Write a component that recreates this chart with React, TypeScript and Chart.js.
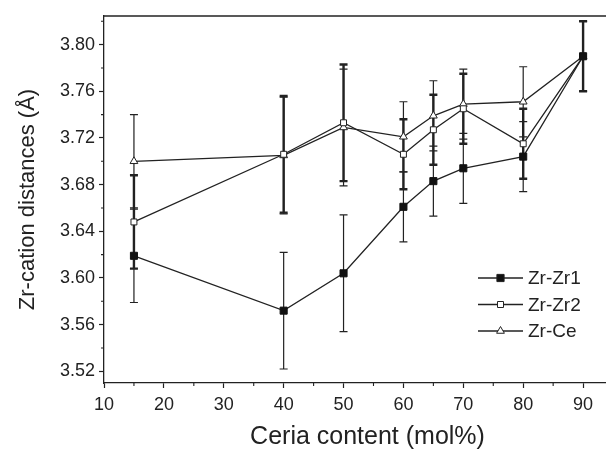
import React, { useEffect, useRef } from "react";
import { Chart, registerables } from "chart.js";

Chart.register(...registerables);

// ---- data ----
const ceria = [15, 40, 50, 60, 65, 70, 80, 90];
const zrZr1 = [3.619, 3.572, 3.604, 3.661, 3.683, 3.694, 3.704, 3.79];
const zrZr1Err = [0.04, 0.05, 0.05, 0.03, 0.03, 0.03, 0.03, 0.03];
const zrZr2 = [3.648, 3.706, 3.733, 3.706, 3.727, 3.745, 3.715, 3.79];
const zrZr2Err = [0.04, 0.05, 0.05, 0.03, 0.03, 0.03, 0.03, 0.03];
const zrCe = [3.7, 3.705, 3.729, 3.721, 3.739, 3.749, 3.751, 3.79];
const zrCeErr = [0.04, 0.05, 0.05, 0.03, 0.03, 0.03, 0.03, 0.03];
const seriesNames = ["Zr-Zr1", "Zr-Zr2", "Zr-Ce"];

const xMajorTicks = [10, 20, 30, 40, 50, 60, 70, 80, 90];
const xMinorTicks = [15, 25, 35, 45, 55, 65, 75, 85, 95];
const yMajorTicks = [3.52, 3.56, 3.6, 3.64, 3.68, 3.72, 3.76, 3.8];
const yMinorTicks = [3.54, 3.58, 3.62, 3.66, 3.7, 3.74, 3.78, 3.82];

const FONT = "'Liberation Sans', Arial, Helvetica, sans-serif";
const INK = "#222";

const errorSets = [zrZr1Err, zrZr2Err, zrCeErr];
const errorWidths = [1.2, 2.4, 1.2];

const errorBarPlugin = {
  id: "errorBars",
  beforeDatasetsDraw(chart: any) {
    const ctx = chart.ctx;
    const yScale = chart.scales.y;
    chart.data.datasets.forEach((ds: any, i: number) => {
      const meta = chart.getDatasetMeta(i);
      const errs = errorSets[i];
      ctx.save();
      ctx.strokeStyle = INK;
      ctx.lineWidth = errorWidths[i];
      meta.data.forEach((pt: any, j: number) => {
        const v = ds.data[j].y;
        const e = errs[j];
        const yTop = yScale.getPixelForValue(v + e);
        const yBot = yScale.getPixelForValue(v - e);
        const x = pt.x;
        ctx.beginPath();
        ctx.moveTo(x, yTop);
        ctx.lineTo(x, yBot);
        ctx.moveTo(x - 4, yTop);
        ctx.lineTo(x + 4, yTop);
        ctx.moveTo(x - 4, yBot);
        ctx.lineTo(x + 4, yBot);
        ctx.stroke();
      });
      ctx.restore();
    });
  },
};

function drawMarker(ctx: any, style: string, x: number, y: number, filled: boolean) {
  ctx.save();
  ctx.lineWidth = 1;
  ctx.strokeStyle = INK;
  ctx.fillStyle = filled ? "#111" : "#fff";
  ctx.beginPath();
  if (style === "rect") {
    const s = filled ? 3.6 : 3;
    ctx.rect(x - s, y - s, 2 * s, 2 * s);
  } else {
    const r = 4.5;
    ctx.moveTo(x, y - r);
    ctx.lineTo(x + r * 0.866, y + r * 0.5);
    ctx.lineTo(x - r * 0.866, y + r * 0.5);
    ctx.closePath();
  }
  ctx.fill();
  ctx.stroke();
  ctx.restore();
}

const framePlugin = {
  id: "frame",
  afterDraw(chart: any) {
    const ctx = chart.ctx;
    const { left, right, top, bottom } = chart.chartArea;
    const xs = chart.scales.x;
    const ys = chart.scales.y;
    ctx.save();
    ctx.strokeStyle = INK;
    ctx.lineWidth = 1.3;
    // top border
    ctx.beginPath();
    ctx.moveTo(left, top);
    ctx.lineTo(right, top);
    ctx.stroke();
    // minor ticks
    ctx.lineWidth = 1.1;
    ctx.beginPath();
    xMinorTicks.forEach((v) => {
      const px = xs.getPixelForValue(v);
      if (px > right) return;
      ctx.moveTo(px, bottom);
      ctx.lineTo(px, bottom + 3);
    });
    yMinorTicks.forEach((v) => {
      const py = ys.getPixelForValue(v);
      ctx.moveTo(left, py);
      ctx.lineTo(left - 3, py);
    });
    ctx.stroke();

    // legend
    const lx0 = left + 374;
    const lx1 = left + 419;
    const mx = (lx0 + lx1) / 2;
    const tx = left + 424;
    const rowY = [bottom - 105, bottom - 78.5, bottom - 52];
    const styles = ["rect", "rect", "triangle"];
    ctx.font = `19px ${FONT}`;
    ctx.textBaseline = "middle";
    ctx.textAlign = "left";
    seriesNames.forEach((name, i) => {
      const y = rowY[i];
      ctx.strokeStyle = INK;
      ctx.lineWidth = 1.3;
      ctx.beginPath();
      ctx.moveTo(lx0, y);
      ctx.lineTo(lx1, y);
      ctx.stroke();
      drawMarker(ctx, styles[i], mx, y, i === 0);
      ctx.fillStyle = INK;
      ctx.fillText(name, tx, y + 1);
    });
    ctx.restore();
  },
};

export default function App() {
  const ref = useRef<HTMLCanvasElement | null>(null);
  useEffect(() => {
    if (!ref.current) return;
    const mk = (vals: number[]) => ceria.map((x, i) => ({ x, y: vals[i] }));
    const chart = new Chart(ref.current, {
      type: "line",
      data: {
        datasets: [
          {
            label: seriesNames[0],
            data: mk(zrZr1),
            borderColor: INK,
            borderWidth: 1.3,
            pointStyle: "rect",
            pointRadius: 5,
            pointBackgroundColor: "#111",
            pointBorderColor: "#111",
            pointBorderWidth: 1,
            tension: 0,
          },
          {
            label: seriesNames[1],
            data: mk(zrZr2),
            borderColor: INK,
            borderWidth: 1.3,
            pointStyle: "rect",
            pointRadius: 4.2,
            pointBackgroundColor: "#fff",
            pointBorderColor: INK,
            pointBorderWidth: 1,
            tension: 0,
          },
          {
            label: seriesNames[2],
            data: mk(zrCe),
            borderColor: INK,
            borderWidth: 1.3,
            pointStyle: "triangle",
            pointRadius: 4.5,
            pointBackgroundColor: "#fff",
            pointBorderColor: INK,
            pointBorderWidth: 1,
            tension: 0,
          },
        ],
      },
      options: {
        animation: false,
        responsive: false,
        devicePixelRatio: 1,
        layout: { padding: { top: 16, left: 0, right: 0, bottom: 0 } },
        plugins: { legend: { display: false }, tooltip: { enabled: false } },
        scales: {
          x: {
            type: "linear",
            min: 10,
            max: 98,
            afterBuildTicks: (s: any) => {
              s.ticks = xMajorTicks.map((v) => ({ value: v }));
            },
            afterFit: (s: any) => {
              s.height = 69;
              s.paddingLeft = 0;
              s.paddingRight = 0;
            },
            grid: { display: true, drawOnChartArea: false, drawTicks: true, tickLength: 5, tickWidth: 1.2, tickColor: INK },
            border: { display: true, color: INK, width: 1.3 },
            ticks: {
              color: INK,
              font: { family: FONT, size: 18 },
              padding: 6,
              maxRotation: 0,
              autoSkip: false,
              callback: (v: any) => String(v),
            },
            title: {
              display: true,
              text: "Ceria content (mol%)",
              color: INK,
              font: { family: FONT, size: 25 },
              padding: { top: 0, bottom: 0 },
            },
          },
          y: {
            type: "linear",
            min: 3.51,
            max: 3.8245,
            afterBuildTicks: (s: any) => {
              s.ticks = yMajorTicks.map((v) => ({ value: v }));
            },
            afterFit: (s: any) => {
              s.width = 104;
              s.paddingTop = 0;
              s.paddingBottom = 0;
            },
            grid: { display: true, drawOnChartArea: false, drawTicks: true, tickLength: 5, tickWidth: 1.2, tickColor: INK },
            border: { display: true, color: INK, width: 1.3 },
            ticks: {
              color: INK,
              font: { family: FONT, size: 18 },
              padding: 4,
              autoSkip: false,
              callback: (v: any) => Number(v).toFixed(2),
            },
            title: {
              display: true,
              text: "Zr-cation distances (Å)",
              color: INK,
              font: { family: FONT, size: 22 },
              padding: { top: 15, bottom: 0 },
            },
          },
        },
      },
      plugins: [errorBarPlugin, framePlugin],
    } as any);
    return () => chart.destroy();
  }, []);
  return (
    <div style={{ position: "absolute", left: 0, top: 0, width: 606, height: 452, overflow: "hidden", background: "#fff" }}>
      <canvas ref={ref} width={637} height={452} style={{ display: "block" }} />
    </div>
  );
}
